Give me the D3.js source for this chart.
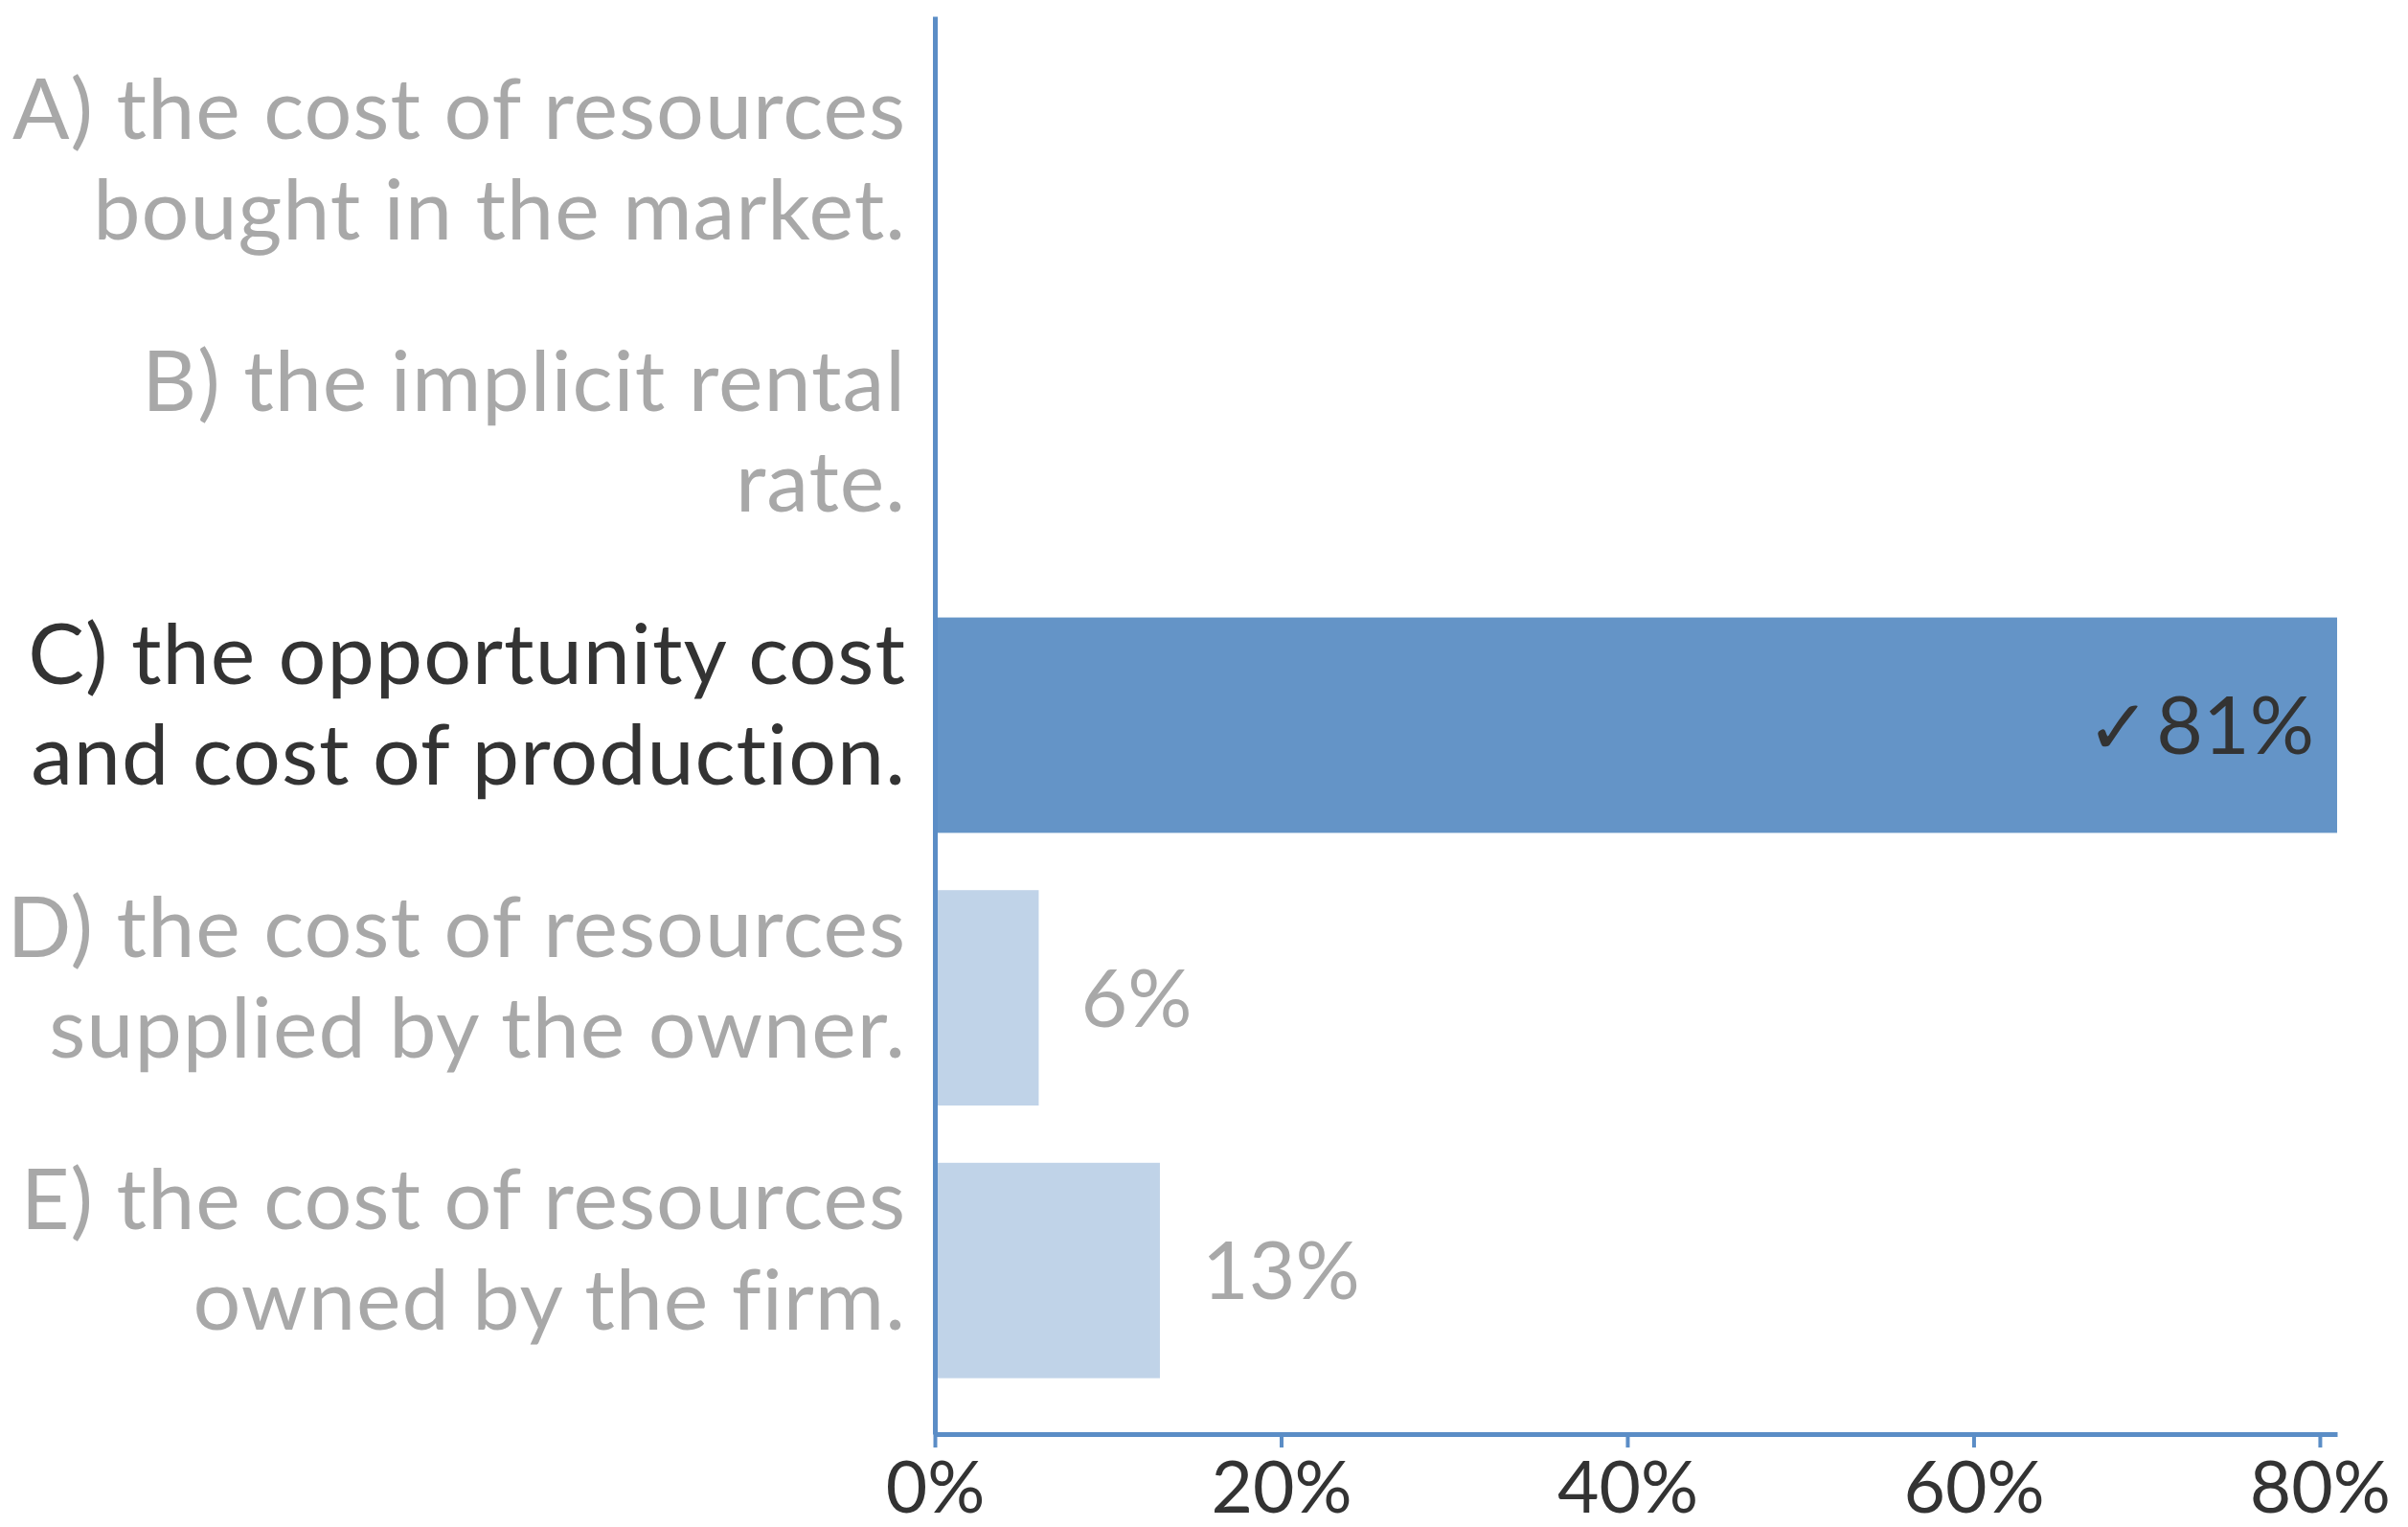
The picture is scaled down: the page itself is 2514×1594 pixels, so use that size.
<!DOCTYPE html>
<html>
<head>
<meta charset="utf-8">
<script src="https://cdn.jsdelivr.net/npm/d3@7"></script>
<style>
  html, body { margin: 0; padding: 0; background: #ffffff; }
  svg { display: block; }
  text { font-family: Lato, "Open Sans", sans-serif; }
</style>
</head>
<body>
<svg id="chart" width="2514" height="1594"></svg>
<script>
// Answer choices, their wrapped label lines, and the share of responses
const categories = ["A", "B", "C", "D", "E"];
const labelLines = [
  ["A) the cost of resources", "bought in the market."],
  ["B) the implicit rental", "rate."],
  ["C) the opportunity cost", "and cost of production."],
  ["D) the cost of resources", "supplied by the owner."],
  ["E) the cost of resources", "owned by the firm."]
];
const values = [0, 0, 81, 6, 13];
const correctAnswer = "C";
const xTicks = [0, 20, 40, 60, 80];

const axisColor = "#5b8dc6";
const barStrong = "#6494c7";
const barLight = "#c0d3e8";
const greyText = "#a8a8a8";
const darkText = "#333333";

const svg = d3.select("#chart");

const x = d3.scaleLinear().domain([0, 81]).range([976, 2440]);
const y = d3.scaleBand().domain(categories).range([17, 1497])
  .paddingInner(0.21).paddingOuter(0.205);

const rows = categories.map((c, i) => ({ cat: c, lines: labelLines[i], value: values[i], correct: c === correctAnswer }));

// bars
svg.append("g").selectAll("rect")
  .data(rows.filter(d => d.value > 0))
  .join("rect")
  .attr("x", x(0))
  .attr("y", d => y(d.cat))
  .attr("width", d => x(d.value) - x(0))
  .attr("height", y.bandwidth())
  .attr("fill", d => d.correct ? barStrong : barLight);

// value labels: inside the bar for the correct answer, outside otherwise
const valueLabels = svg.append("g").selectAll("text")
  .data(rows.filter(d => d.value > 0))
  .join("text")
  .attr("font-size", 84)
  .attr("y", d => y(d.cat) + y.bandwidth() / 2 + 30)
  .attr("x", d => d.correct ? x(d.value) - 24 : x(d.value) + 44)
  .attr("text-anchor", d => d.correct ? "end" : "start")
  .attr("fill", d => d.correct ? darkText : greyText);
valueLabels.filter(d => d.correct).append("tspan")
  .attr("font-family", "'DejaVu Sans', sans-serif")
  .attr("font-size", 80)
  .text("\u2713");
valueLabels.filter(d => d.correct).append("tspan").attr("dx", 6).text(d => d.value + "%");
valueLabels.filter(d => !d.correct).text(d => d.value + "%");

// category labels, two lines each, right-aligned next to the axis
const catLabels = svg.append("g").selectAll("text")
  .data(rows)
  .join("text")
  .attr("font-size", 88)
  .attr("letter-spacing", 1)
  .attr("text-anchor", "end")
  .attr("fill", d => d.correct ? darkText : greyText);
catLabels.selectAll("tspan")
  .data(d => d.lines.map((t, k) => ({ t, k, cat: d.cat })))
  .join("tspan")
  .attr("x", 946)
  .attr("y", d => y(d.cat) + y.bandwidth() / 2 - 43 + d.k * 105)
  .text(d => d.t);

// left axis line
const yAxis = svg.append("g")
  .attr("transform", `translate(${x(0)},0)`)
  .call(d3.axisLeft(y).tickSize(0).tickSizeOuter(0).tickFormat(""));
yAxis.select(".domain").attr("stroke", axisColor).attr("stroke-width", 5);

// bottom axis
const xAxis = svg.append("g")
  .attr("transform", `translate(0,${1497})`)
  .call(d3.axisBottom(x).tickValues(xTicks).tickSize(14).tickSizeOuter(0).tickPadding(15)
    .tickFormat(d => d + "%"));
xAxis.select(".domain").attr("stroke", axisColor).attr("stroke-width", 5);
xAxis.selectAll(".tick line").attr("stroke", axisColor).attr("stroke-width", 4);
xAxis.selectAll(".tick text")
  .attr("font-family", "Lato, sans-serif")
  .attr("font-size", 75)
  .attr("fill", darkText);
</script>
</body>
</html>
